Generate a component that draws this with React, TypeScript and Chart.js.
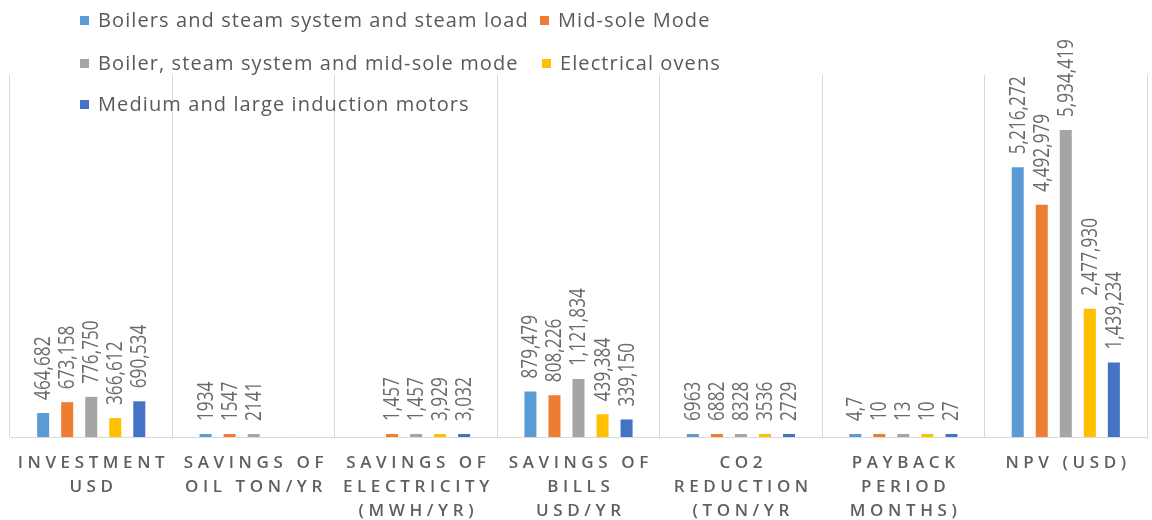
import React, { useEffect, useRef } from "react";
import { Chart, registerables } from "chart.js";

Chart.register(...registerables);

const categories: string[][] = [
  ["INVESTMENT", "USD"],
  ["SAVINGS OF", "OIL TON/YR"],
  ["SAVINGS OF", "ELECTRICITY", "(MWH/YR)"],
  ["SAVINGS OF", "BILLS", "USD/YR"],
  ["CO2", "REDUCTION", "(TON/YR"],
  ["PAYBACK", "PERIOD", "MONTHS)"],
  ["NPV (USD)"],
];

// label formats per category: "comma" = thousands separators, "plain" = raw with decimal comma
const labelFormats = ["comma", "plain", "comma", "comma", "plain", "plain", "comma"];

const seriesNames = [
  "Boilers and steam system and steam load",
  "Mid-sole Mode",
  "Boiler, steam system and mid-sole mode",
  "Electrical ovens",
  "Medium and large induction motors",
];

const seriesColors = ["#5B9BD5", "#ED7D31", "#A5A5A5", "#FFC000", "#4472C4"];

const boilersSteam = [464682, 1934, null, 879479, 6963, 4.7, 5216272];
const midSole = [673158, 1547, 1457, 808226, 6882, 10, 4492979];
const boilerMidSole = [776750, 2141, 1457, 1121834, 8328, 13, 5934419];
const electricalOvens = [366612, null, 3929, 439384, 3536, 10, 2477930];
const inductionMotors = [690534, null, 3032, 339150, 2729, 27, 1439234];

const seriesValues = [boilersSteam, midSole, boilerMidSole, electricalOvens, inductionMotors];

const yMin = 0;
const yMax = 7000000;

// legend layout: [seriesIndex, row, x]
const legendLayout: [number, number, number][] = [
  [0, 0, 80],
  [1, 0, 540],
  [2, 1, 80],
  [3, 1, 542],
  [4, 2, 80],
];
const legendRowY = [20, 63, 104];

function fmt(v: number, catIdx: number): string {
  if (labelFormats[catIdx] === "comma") return v.toLocaleString("en-US");
  return String(v).replace(".", ",");
}

const LABEL_FONT = '21px "Open Sans", sans-serif';

const dataLabelPlugin = {
  id: "dataLabelPlugin",
  afterDatasetsDraw(chart: any) {
    const ctx = chart.ctx;
    ctx.save();
    ctx.font = LABEL_FONT;
    ctx.fillStyle = "#6a6a6a";
    chart.data.datasets.forEach((ds: any, di: number) => {
      const meta = chart.getDatasetMeta(di);
      meta.data.forEach((bar: any, i: number) => {
        const v = ds.data[i];
        if (v === null || v === undefined) return;
        ctx.save();
        ctx.translate(bar.x, bar.y - 13);
        ctx.rotate(-Math.PI / 2);
        ctx.scale(0.82, 1);
        ctx.textAlign = "left";
        ctx.textBaseline = "middle";
        ctx.fillText(fmt(v, i), 0, 1);
        ctx.restore();
      });
    });
    ctx.restore();
  },
};

const xLabelPlugin = {
  id: "xLabelPlugin",
  afterDraw(chart: any) {
    const ctx = chart.ctx;
    const xScale = chart.scales.x;
    const bottom = chart.chartArea.bottom;
    ctx.save();
    ctx.font = '600 17px "Open Sans", sans-serif';
    ctx.fillStyle = "#5f5f5f";
    ctx.textBaseline = "middle";
    ctx.textAlign = "left";
    const spacing = 4.6;
    (ctx as any).letterSpacing = spacing + "px";
    categories.forEach((lines, i) => {
      const cx = xScale.getPixelForValue(i);
      lines.forEach((line, li) => {
        const w = ctx.measureText(line).width - spacing;
        ctx.fillText(line, cx - w / 2, bottom + 26 + li * 24);
      });
    });
    ctx.restore();
  },
};

const legendPlugin = {
  id: "customLegend",
  afterDraw(chart: any) {
    const ctx = chart.ctx;
    ctx.save();
    ctx.font = '20px "Open Sans", sans-serif';
    (ctx as any).letterSpacing = "1.1px";
    ctx.textBaseline = "middle";
    ctx.textAlign = "left";
    legendLayout.forEach(([si, row, x]) => {
      const y = legendRowY[row];
      ctx.fillStyle = seriesColors[si];
      ctx.fillRect(x, y - 4, 9, 9);
      ctx.fillStyle = "#595959";
      ctx.fillText(seriesNames[si], x + 18, y + 1);
    });
    ctx.restore();
  },
};

export default function App() {
  const canvasRef = useRef<HTMLCanvasElement | null>(null);

  useEffect(() => {
    if (!canvasRef.current) return;
    const chart = new Chart(canvasRef.current, {
      type: "bar",
      data: {
        labels: categories.map((c) => c.join(" ")),
        datasets: seriesNames.map((name, si) => ({
          label: name,
          data: seriesValues[si] as any,
          backgroundColor: seriesColors[si],
          borderWidth: 0,
          categoryPercentage: 0.74,
          barPercentage: 0.5,
          minBarLength: 3,
        })),
      },
      options: {
        animation: false,
        responsive: true,
        maintainAspectRatio: false,
        layout: { padding: { left: 10, right: 5, top: 75, bottom: 83 } },
        plugins: {
          legend: { display: false },
          tooltip: { enabled: false },
        },
        scales: {
          x: {
            grid: {
              display: true,
              offset: true,
              color: "#d9d9d9",
              lineWidth: 1,
              drawTicks: false,
            },
            border: { display: true, color: "#d9d9d9" },
            ticks: { display: false },
          },
          y: {
            display: false,
            min: yMin,
            max: yMax,
          },
        },
      },
      plugins: [dataLabelPlugin, xLabelPlugin, legendPlugin],
    });
    return () => chart.destroy();
  }, []);

  return (
    <div style={{ position: "absolute", left: 0, top: 0, width: 1152, height: 520, background: "#ffffff" }}>
      <canvas ref={canvasRef} />
    </div>
  );
}
